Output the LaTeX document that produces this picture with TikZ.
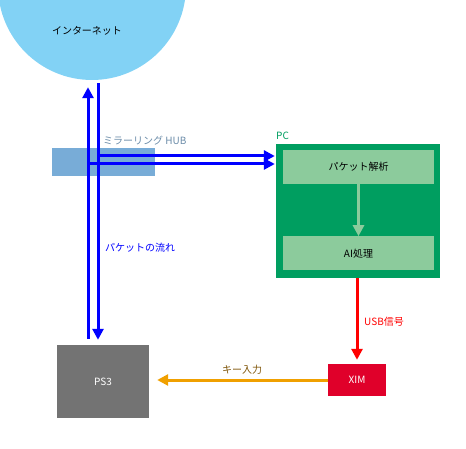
\documentclass[tikz,border=0pt]{standalone}
\usepackage{fontspec}
\setmainfont{Noto Sans CJK JP}
\usepackage{tikz}
\usetikzlibrary{arrows.meta}
\usetikzlibrary{positioning}
\usetikzlibrary{calc}
\definecolor{netblue}{HTML}{82D2F5}
\definecolor{hubblue}{HTML}{78ACD7}
\definecolor{hubtext}{HTML}{6A8BA8}
\definecolor{pcgreen}{HTML}{009E60}
\definecolor{procgreen}{HTML}{8CCB9C}
\definecolor{ximred}{HTML}{E0002A}
\definecolor{ps3gray}{HTML}{737373}
\definecolor{keyorange}{HTML}{F0A000}
\definecolor{keytext}{HTML}{80560A}
\tikzset{>={Triangle[length=11pt,width=11pt]}}
\tikzset{
    box/.style = {inner sep=0pt, font=\fontsize{10}{12}\selectfont},
    netcloud/.style = {box, circle, fill=netblue, minimum size=188pt},
    hubbox/.style = {box, fill=hubblue, minimum width=103pt, minimum height=28pt},
    pcbox/.style = {box, fill=pcgreen, minimum width=164pt, minimum height=134pt},
    procbox/.style = {box, fill=procgreen, minimum width=151pt, minimum height=34pt},
    ximbox/.style = {box, fill=ximred, text=white, minimum width=58pt, minimum height=32pt},
    ps3box/.style = {box, fill=ps3gray, text=white, minimum width=92pt, minimum height=73pt},
    tag/.style = {box, anchor=west},
}
\tikzset{
    flow/.style = {->, draw=blue, line width=3pt},
    inner/.style = {->, draw=procgreen, line width=3pt},
    usb/.style = {->, draw=red, line width=3pt},
    keyin/.style = {->, draw=keyorange, line width=3pt},
}

\begin{document}
\begin{tikzpicture}[x=1pt,y=-1pt]
    \useasboundingbox (0,0) rectangle (466,449);
    \clip (0,0) rectangle (466,449);
    % internet
    \node[netcloud] (net) at (92,-14) {};
    \node[box] (nettext) at (87,31) {インターネット};
    % hub
    \node[hubbox] (hub) at (103.5,162) {};
    \node[tag, text=hubtext] (hublabel) at (103,141) {ミラーリング HUB};
    % pc
    \node[pcbox] (pc) at (358,211) {};
    \node[tag, text=pcgreen] (pclabel) at (276,136) {PC};
    \node[procbox] (parse) at (358.5,167) {パケット解析};
    \node[procbox, below=52pt of parse] (ai) {AI処理};
    % devices
    \node[ximbox] (xim) at (357,380) {XIM};
    \node[ps3box] (ps3) at (103,381.5) {PS3};

    \coordinate (tapU) at (98,156);
    \coordinate (tapL) at (88,164);
    % packet lines
    \draw[flow, shorten <=6pt, shorten >=7pt] ([xshift=-4pt]net.south |- ps3.north) -- ([xshift=-4pt]net.south);
    \draw[flow, shorten <=3pt, shorten >=5pt] ([xshift=6pt]net.south) -- ([xshift=6pt]net.south |- ps3.north);
    \draw[flow, shorten >=1pt] (tapU) -- (tapU -| pc.west);
    \draw[flow, shorten >=1pt] (tapL) -- (tapL -| pc.west);
    \node[tag, text=blue] (flowlabel) at (105,248) {パケットの流れ};

    \draw[inner] (parse) -- (ai);
    \draw[usb, shorten >=4pt] (xim.north |- pc.south) -- (xim.north);
    \node[tag, text=red] (usblabel) at (364,322) {USB信号};
    \draw[keyin, shorten >=8pt] (xim.west) -- (xim.west -| ps3.east);
    \node[box, text=keytext] (keylabel) at (242,370) {キー入力};
\end{tikzpicture}
\end{document}
